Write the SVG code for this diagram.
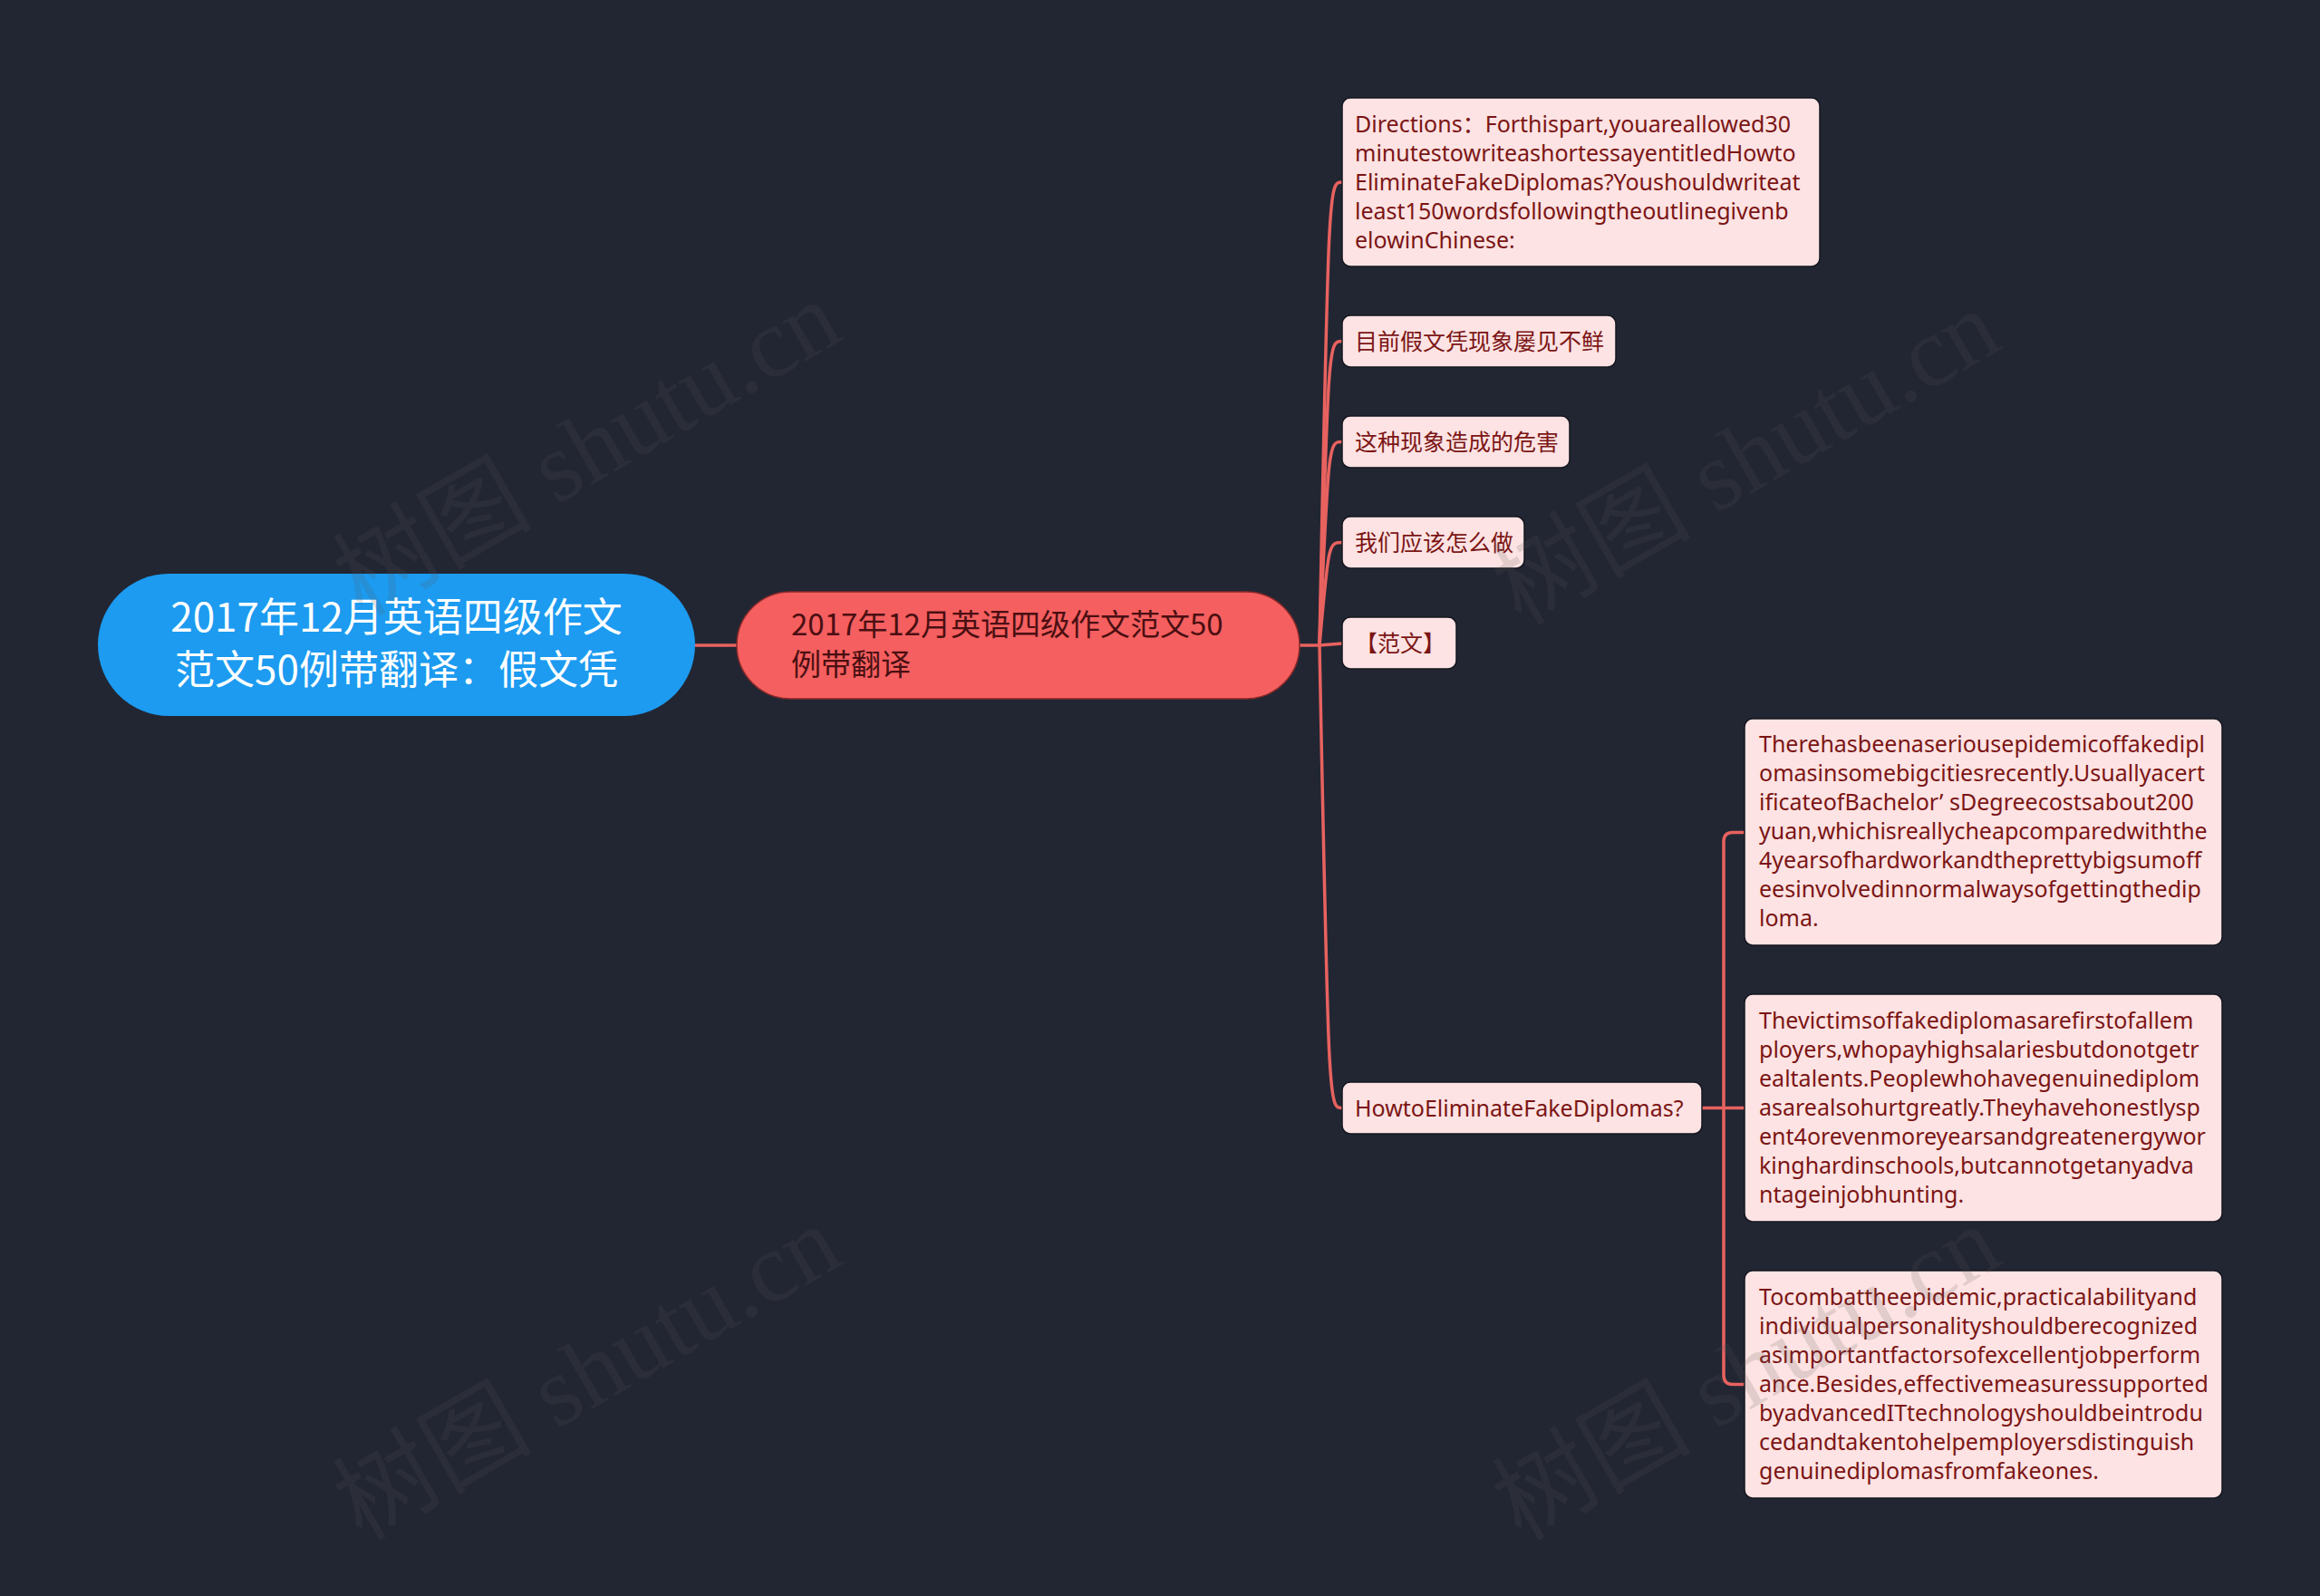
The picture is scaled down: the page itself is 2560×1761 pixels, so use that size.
<svg xmlns="http://www.w3.org/2000/svg" width="2560" height="1761" viewBox="0 0 2560 1761">
<style>
.bg{fill:#222633}
.conn{fill:none;stroke:#e8625f;stroke-width:3.5;stroke-linecap:round}
.root{fill:#1c9bf0}
.main{fill:#f55f5f;stroke:#8a2a2a;stroke-width:1.5}
.leaf{fill:#fde3e3;stroke:#15171f;stroke-width:1.5}
.rt{font-family:"Noto Sans CJK SC","Noto Sans",sans-serif;font-size:44px;fill:#ffffff;text-anchor:middle}
.mt{font-family:"Noto Sans CJK SC","Noto Sans",sans-serif;font-size:33px;fill:#4a0f12}
.lt{font-family:"Noto Sans","Noto Sans CJK SC",sans-serif;font-size:25px;fill:#7b1515}
.ct{font-family:"Noto Sans CJK SC","Noto Sans",sans-serif;font-size:25px;fill:#7b1515}
.wm{font-family:"Liberation Serif","Noto Sans CJK SC",serif;font-size:110px;fill:#5a5a5a;fill-opacity:0.17;text-anchor:middle;dominant-baseline:central}
</style>
<rect class="bg" x="0" y="0" width="2560" height="1761"/>

<g id="connectors">
  <path class="conn" d="M767 712 L813 712"/>
  <path class="conn" d="M1434 712 L1456 712"/>
  <path class="conn" d="M1456 712 C1466 201 1466 201 1481 201"/>
  <path class="conn" d="M1456 712 C1466 376.5 1466 376.5 1481 376.5"/>
  <path class="conn" d="M1456 712 C1466 487.5 1466 487.5 1481 487.5"/>
  <path class="conn" d="M1456 712 C1466 598.5 1466 598.5 1481 598.5"/>
  <path class="conn" d="M1456 712 L1481 710"/>
  <path class="conn" d="M1456 712 C1466 1222.5 1466 1222.5 1481 1222.5"/>
  <path class="conn" d="M1878 1222.5 L1925 1222.5"/>
  <path class="conn" d="M1902 1222.5 L1902 928.5 Q1902 918.5 1912 918.5 L1925 918.5"/>
  <path class="conn" d="M1902 1222.5 L1902 1517.5 Q1902 1527.5 1912 1527.5 L1925 1527.5"/>
</g>

<g id="node-root">
  <rect class="root" x="108" y="633" width="659" height="157" rx="78.5"/>
  <text class="rt" x="437.5" y="697">2017年12月英语四级作文</text>
  <text class="rt" x="437.5" y="755">范文50例带翻译：假文凭</text>
</g>

<g id="node-main">
  <rect class="main" x="813" y="653" width="621" height="118" rx="59"/>
  <text class="mt" x="873" y="701">2017年12月英语四级作文范文50</text>
  <text class="mt" x="873" y="745">例带翻译</text>
</g>

<g id="node-directions">
  <rect class="leaf" x="1481" y="108" width="527" height="186" rx="9"/>
  <text class="lt" x="1495" y="146">Directions：Forthispart,youareallowed30</text>
  <text class="lt" x="1495" y="178">minutestowriteashortessayentitledHowto</text>
  <text class="lt" x="1495" y="210">EliminateFakeDiplomas?Youshouldwriteat</text>
  <text class="lt" x="1495" y="242">least150wordsfollowingtheoutlinegivenb</text>
  <text class="lt" x="1495" y="274">elowinChinese:</text>
</g>

<g id="node-current">
  <rect class="leaf" x="1481" y="348" width="302" height="57" rx="9"/>
  <text class="ct" x="1495" y="386">目前假文凭现象屡见不鲜</text>
</g>

<g id="node-harm">
  <rect class="leaf" x="1481" y="459" width="251" height="57" rx="9"/>
  <text class="ct" x="1495" y="497">这种现象造成的危害</text>
</g>

<g id="node-todo">
  <rect class="leaf" x="1481" y="570" width="201" height="57" rx="9"/>
  <text class="ct" x="1495" y="608">我们应该怎么做</text>
</g>

<g id="node-sample">
  <rect class="leaf" x="1481" y="681" width="126" height="57" rx="9"/>
  <text class="ct" x="1495" y="719">【范文】</text>
</g>

<g id="node-how">
  <rect class="leaf" x="1481" y="1194" width="397" height="57" rx="9"/>
  <text class="lt" x="1495" y="1232">HowtoEliminateFakeDiplomas?</text>
</g>

<g id="node-p1">
  <rect class="leaf" x="1925" y="793" width="527" height="250" rx="9"/>
  <text class="lt" x="1941" y="830">Therehasbeenaseriousepidemicoffakedipl</text>
  <text class="lt" x="1941" y="862">omasinsomebigcitiesrecently.Usuallyacert</text>
  <text class="lt" x="1941" y="894">ificateofBachelor’ sDegreecostsabout200</text>
  <text class="lt" x="1941" y="926">yuan,whichisreallycheapcomparedwiththe</text>
  <text class="lt" x="1941" y="958">4yearsofhardworkandtheprettybigsumoff</text>
  <text class="lt" x="1941" y="990">eesinvolvedinnormalwaysofgettingthedip</text>
  <text class="lt" x="1941" y="1022">loma.</text>
</g>

<g id="node-p2">
  <rect class="leaf" x="1925" y="1097" width="527" height="251" rx="9"/>
  <text class="lt" x="1941" y="1135">Thevictimsoffakediplomasarefirstofallem</text>
  <text class="lt" x="1941" y="1167">ployers,whopayhighsalariesbutdonotgetr</text>
  <text class="lt" x="1941" y="1199">ealtalents.Peoplewhohavegenuinediplom</text>
  <text class="lt" x="1941" y="1231">asarealsohurtgreatly.Theyhavehonestlysp</text>
  <text class="lt" x="1941" y="1263">ent4orevenmoreyearsandgreatenergywor</text>
  <text class="lt" x="1941" y="1295">kinghardinschools,butcannotgetanyadva</text>
  <text class="lt" x="1941" y="1327">ntageinjobhunting.</text>
</g>

<g id="node-p3">
  <rect class="leaf" x="1925" y="1402" width="527" height="251" rx="9"/>
  <text class="lt" x="1941" y="1440">Tocombattheepidemic,practicalabilityand</text>
  <text class="lt" x="1941" y="1472">individualpersonalityshouldberecognized</text>
  <text class="lt" x="1941" y="1504">asimportantfactorsofexcellentjobperform</text>
  <text class="lt" x="1941" y="1536">ance.Besides,effectivemeasuressupported</text>
  <text class="lt" x="1941" y="1568">byadvancedITtechnologyshouldbeintrodu</text>
  <text class="lt" x="1941" y="1600">cedandtakentohelpemployersdistinguish</text>
  <text class="lt" x="1941" y="1632">genuinediplomasfromfakeones.</text>
</g>

<g id="watermarks">
  <text class="wm" transform="translate(648 495) rotate(-30)">树图 shutu.cn</text>
  <text class="wm" transform="translate(1927 505) rotate(-30)">树图 shutu.cn</text>
  <text class="wm" transform="translate(648 1515) rotate(-30)">树图 shutu.cn</text>
  <text class="wm" transform="translate(1927 1515) rotate(-30)">树图 shutu.cn</text>
</g>
</svg>
